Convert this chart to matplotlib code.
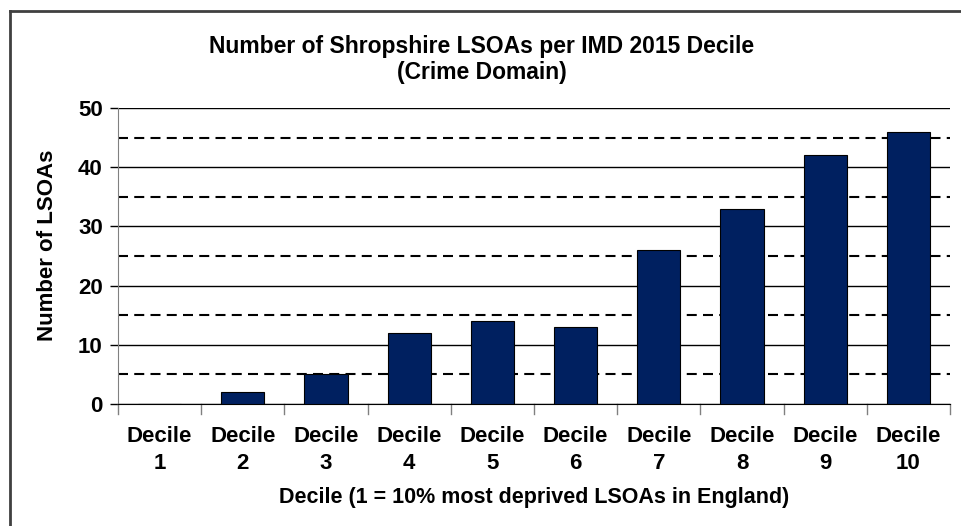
import matplotlib.pyplot as plt
from matplotlib.lines import Line2D

deciles = ['Decile\n1', 'Decile\n2', 'Decile\n3', 'Decile\n4', 'Decile\n5',
           'Decile\n6', 'Decile\n7', 'Decile\n8', 'Decile\n9', 'Decile\n10']
lsoa_counts = [0, 2, 5, 12, 14, 13, 26, 33, 42, 46]

plt.rcParams['font.family'] = ['Liberation Sans', 'DejaVu Sans']
plt.rcParams['font.weight'] = 'bold'

fig = plt.figure(figsize=(9.61, 5.26), dpi=100)
ax = fig.add_axes([0.1228, 0.232, 0.8658, 0.5627])

x = range(len(deciles))
ax.bar(x, lsoa_counts, width=0.52, color='#002060', edgecolor='black', linewidth=0.8, zorder=3)

ax.set_xlim(-0.5, len(deciles) - 0.5)
ax.set_ylim(0, 50)
ax.set_yticks(range(0, 51, 10))
ax.set_yticks(range(5, 50, 10), minor=True)
ax.grid(axis='y', which='major', color='black', linestyle='-', linewidth=1, zorder=1)
ax.grid(axis='y', which='minor', color='black', linestyle=(0, (4.8, 3)), linewidth=1.5, zorder=1)
ax.tick_params(axis='y', which='major', length=6, width=1, labelsize=16, pad=5)
ax.tick_params(axis='y', which='minor', length=0)

ax.set_xticks(x)
ax.set_xticklabels(deciles, fontsize=16, linespacing=1.38)
ax.tick_params(axis='x', length=0, pad=16)
# category boundary ticks below axis
for b in [i - 0.5 for i in range(len(deciles) + 1)]:
    ax.plot([b, b], [0, -0.035], transform=ax.get_xaxis_transform(), color='#808080',
            linewidth=1, clip_on=False)

for side in ['top', 'right']:
    ax.spines[side].set_visible(False)
ax.spines['left'].set_color('#808080')
ax.spines['bottom'].set_color('black')

ax.set_ylabel('Number of LSOAs', fontsize=16, fontweight='bold')
ax.yaxis.set_label_coords(-0.072, 0.537)
ax.set_xlabel('Decile (1 = 10% most deprived LSOAs in England)', fontsize=15.5,
              fontweight='bold', labelpad=9)
fig.text(0.5011, 0.887, 'Number of Shropshire LSOAs per IMD 2015 Decile\n(Crime Domain)',
         ha='center', va='center', fontsize=16.5, fontweight='bold', linespacing=1.15)

# frame edges visible at left and top of the picture
fig.add_artist(Line2D([9.5 / 961, 9.5 / 961], [0, 1 - 10.5 / 526], color='#404040', linewidth=2))
fig.add_artist(Line2D([9.5 / 961, 1], [1 - 10.5 / 526, 1 - 10.5 / 526], color='#404040', linewidth=2))

fig.savefig('out.png', dpi=100)
